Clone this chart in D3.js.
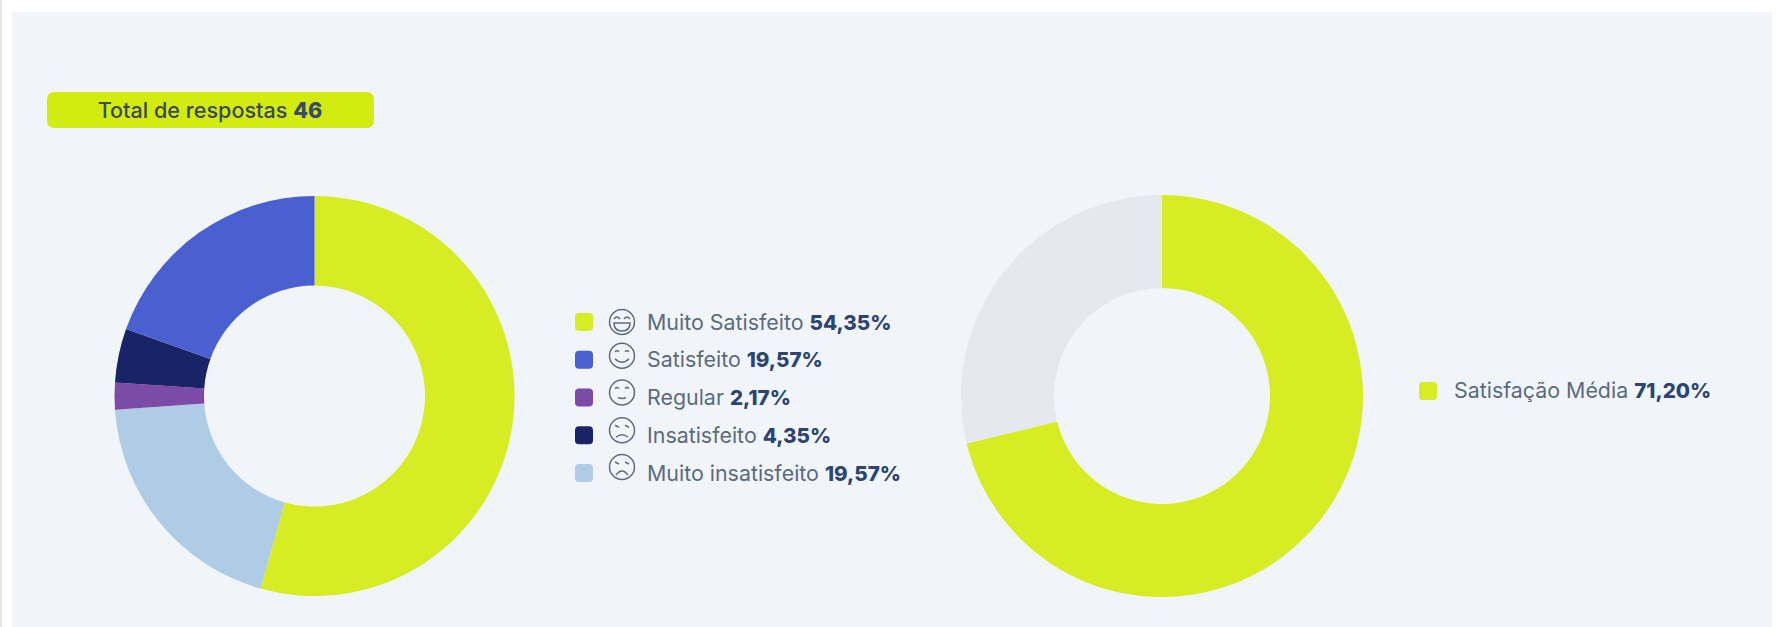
<!DOCTYPE html>
<html><head><meta charset="utf-8">
<script src="https://cdn.jsdelivr.net/npm/d3@7/dist/d3.min.js"></script>
<style>html,body{margin:0;padding:0;background:#fff;overflow:hidden}svg{display:block}text{font-family:Inter,"Open Sans",sans-serif}</style>
</head><body><svg id="c" width="1780" height="627"></svg>
<script>
const categories=["Muito Satisfeito","Satisfeito","Regular","Insatisfeito","Muito insatisfeito"];
const values=[54.35,19.57,2.17,4.35,19.57];
const labels=["54,35%","19,57%","2,17%","4,35%","19,57%"];
const colors=["#d6ec23","#4a5fd0","#7b4ba5","#182466","#afcce6"];
const sliceOrder=[0,4,2,3,1];
const moods=["laugh","smile","neutral","sad","cry"];
const avgCategories=["Satisfação Média","Restante"];
const avgValues=[71.20,28.80];
const avgColors=["#d6ec23","#e6e8f0"];
const totalLabel="Total de respostas", totalValue="46";
const svg=d3.select("#c");
svg.append("rect").attr("x",0).attr("y",0).attr("width",1780).attr("height",627).attr("fill","#fff");
svg.append("rect").attr("x",0).attr("y",0).attr("width",2).attr("height",627).attr("fill","#e4e4e4");
svg.append("rect").attr("x",12).attr("y",12).attr("width",1760).attr("height",615).attr("fill","#f1f5fa");
const badge=svg.append("g");
badge.append("rect").attr("x",47).attr("y",92).attr("width",327).attr("height",36).attr("rx",7).attr("fill","#d2ec12");
const bt=badge.append("text").attr("x",210).attr("y",118).attr("text-anchor","middle").attr("font-size",21.6).attr("fill","#3d4a55").attr("font-weight",500);
bt.append("tspan").text(totalLabel+" ");
bt.append("tspan").attr("font-weight",800).attr("fill","#3a4a68").text(totalValue);
function donut(cx,cy,r0,r1,vals,cols){
  const pie=d3.pie().sort(null)(vals);
  const arc=d3.arc().innerRadius(r0).outerRadius(r1);
  svg.append("g").attr("transform",`translate(${cx},${cy})`).selectAll("path").data(pie).join("path").attr("d",arc).attr("fill",(d,i)=>cols[i]);
}
donut(314.5,396,110.5,200,sliceOrder.map(i=>values[i]),sliceOrder.map(i=>colors[i]));
donut(1162,396,108,201,avgValues,avgColors);
const ys=d3.scalePoint().domain(categories).range([322,473]);
const emojiDy=[0,-4,-5,-5,-6];
const leg=svg.append("g").selectAll("g").data(categories).join("g").attr("transform",d=>`translate(0,${ys(d)})`);
leg.append("rect").attr("x",575).attr("y",-9).attr("width",18).attr("height",18).attr("rx",4).attr("fill",(d,i)=>colors[i]);
const ec="#5d6b80";
leg.each(function(d,i){
  const g=d3.select(this).append("g").attr("transform",`translate(622,${emojiDy[i]})`).attr("fill","none").attr("stroke",ec).attr("stroke-width",1.5);
  g.append("circle").attr("r",12.5);
  const m=moods[i];
  const eye=m==="cry"||m==="sad";
  [-5,5].forEach(x=>g.append("path").attr("d",m==="laugh"?`M${x-3},-3 q3,-4 6,0`:eye?`M${x-2},-5 l4,2`:`M${x-2},-4 q2,-2 4,0`));
  if(m==="laugh") g.append("path").attr("d","M-8,1 H8 Q8,9 0,9 Q-8,9 -8,1Z");
  if(m==="smile") g.append("path").attr("d","M-7,3 Q0,10 7,3");
  if(m==="neutral") g.append("path").attr("d","M-4,5 Q0,7 4,5");
  if(m==="sad") g.append("path").attr("d","M-6,7 Q0,2 6,7");
  if(m==="cry") g.append("path").attr("d","M-6,8 Q0,0 6,8");
});
const lt=leg.append("text").attr("x",647).attr("y",7.5).attr("font-size",21.4).attr("fill","#5a6b80");
lt.append("tspan").text(d=>d+" ");
lt.append("tspan").attr("font-weight",800).attr("font-size",20.6).attr("fill","#2b4472").text((d,i)=>labels[i]);
svg.append("rect").attr("x",1419).attr("y",382).attr("width",18).attr("height",18).attr("rx",4).attr("fill",avgColors[0]);
const at=svg.append("text").attr("x",1454).attr("y",398).attr("font-size",21.4).attr("fill","#5a6b80");
at.append("tspan").text(avgCategories[0]+" ");
at.append("tspan").attr("font-weight",800).attr("font-size",20.6).attr("fill","#2b4472").text("71,20%");
</script></body></html>
